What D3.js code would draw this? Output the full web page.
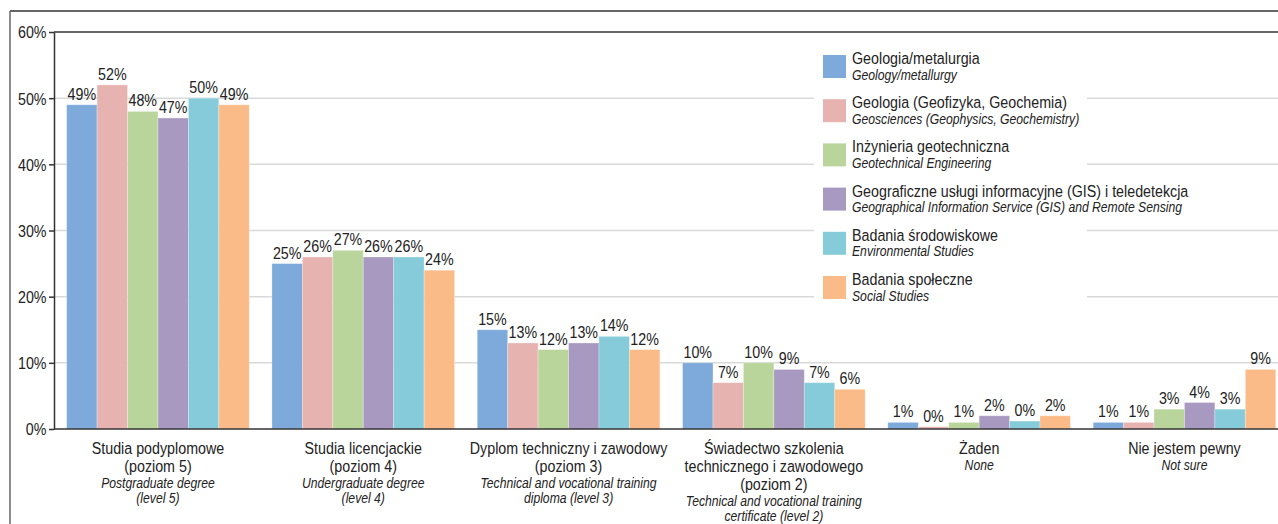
<!DOCTYPE html>
<html><head><meta charset="utf-8">
<script src="https://cdn.jsdelivr.net/npm/d3@7"></script>
<style>
html,body{margin:0;padding:0;background:#fff;}
svg{display:block;}
text{font-family:"Liberation Sans",Arial,sans-serif;fill:#222;}
</style></head>
<body>
<svg id="c" width="1278" height="524"></svg>
<script>
const categoriesPL = [
  ["Studia podyplomowe","(poziom 5)"],
  ["Studia licencjackie","(poziom 4)"],
  ["Dyplom techniczny i zawodowy","(poziom 3)"],
  ["Świadectwo szkolenia","technicznego i zawodowego","(poziom 2)"],
  ["Żaden"],
  ["Nie jestem pewny"]
];
const categoriesEN = [
  ["Postgraduate degree","(level 5)"],
  ["Undergraduate degree","(level 4)"],
  ["Technical and vocational training","diploma (level 3)"],
  ["Technical and vocational training","certificate (level 2)"],
  ["None"],
  ["Not sure"]
];
const seriesPL = ["Geologia/metalurgia","Geologia (Geofizyka, Geochemia)","Inżynieria geotechniczna","Geograficzne usługi informacyjne (GIS) i teledetekcja","Badania środowiskowe","Badania społeczne"];
const seriesEN = ["Geology/metallurgy","Geosciences (Geophysics, Geochemistry)","Geotechnical Engineering","Geographical Information Service (GIS) and Remote Sensing","Environmental Studies","Social Studies"];
const colors = ["#7eaadb","#e6b3b1","#b9d59b","#a899c1","#86cbd9","#fbbb89"];
// values per series (one per category)
const geologia   = [49, 25, 15, 10, 1.0, 1];
const geosciences= [52, 26, 13, 7, 0.35, 1];
const geotech    = [48, 27, 12, 10, 1.0, 3];
const gis        = [47, 26, 13, 9, 2, 4];
const environ    = [50, 26, 14, 7, 1.2, 3];
const social     = [49, 24, 12, 6, 2, 9];
const values = [geologia, geosciences, geotech, gis, environ, social];
// printed labels per series
const labGeologia   = ["49%","25%","15%","10%","1%","1%"];
const labGeosciences= ["52%","26%","13%","7%","0%","1%"];
const labGeotech    = ["48%","27%","12%","10%","1%","3%"];
const labGis        = ["47%","26%","13%","9%","2%","4%"];
const labEnviron    = ["50%","26%","14%","7%","0%","3%"];
const labSocial     = ["49%","24%","12%","6%","2%","9%"];
const labels = [labGeologia, labGeosciences, labGeotech, labGis, labEnviron, labSocial];
const yTicks = [0,10,20,30,40,50,60];

const SX = 0.84; // condensed look
const svg = d3.select("#c");
const W = 1278;
const y = d3.scaleLinear().domain([0,60]).range([429,32]);
const x0 = d3.scaleBand().domain(d3.range(6)).range([55.3,1287.1]).paddingInner(0.1105).paddingOuter(0.05525);
const x1 = d3.scaleBand().domain(d3.range(6)).range([0,x0.bandwidth()]);

function ctext(parent, x, yy, size, str, anchor, italic){
  return parent.append("text")
    .attr("transform",`translate(${x},${yy}) scale(${SX},1)`)
    .attr("font-size",size)
    .attr("text-anchor",anchor||"start")
    .attr("font-style",italic?"italic":null)
    .text(str);
}

// outer frame
svg.append("line").attr("x1",10).attr("x2",W).attr("y1",11).attr("y2",11).attr("stroke","#333").attr("stroke-width",1.5);
svg.append("line").attr("x1",10).attr("x2",10).attr("y1",11).attr("y2",524).attr("stroke","#666").attr("stroke-width",1.5);

// gridlines
svg.append("g").selectAll("line").data(yTicks.filter(d=>d>0&&d<60)).join("line")
  .attr("x1",54).attr("x2",W).attr("y1",d=>y(d)).attr("y2",d=>y(d))
  .attr("stroke","#d9d9d9").attr("stroke-width",1.5);

// top line
svg.append("line").attr("x1",54).attr("x2",W).attr("y1",y(60)).attr("y2",y(60)).attr("stroke","#333").attr("stroke-width",1.5);

// legend background
const lg = svg.append("g");
lg.append("rect").attr("x",814).attr("y",44).attr("width",273).attr("height",268).attr("fill","#fff");

// bars
const groups = svg.append("g").selectAll("g").data(d3.range(6)).join("g")
  .attr("transform",c=>`translate(${x0(c)},0)`);
groups.selectAll("rect").data(c=>values.map((s,i)=>({i,c,v:s[c]}))).join("rect")
  .attr("x",d=>x1(d.i)).attr("width",x1.bandwidth())
  .attr("y",d=>y(d.v)).attr("height",d=>y(0)-y(d.v))
  .attr("fill",d=>colors[d.i])
  .attr("stroke","rgba(255,255,255,0.35)").attr("stroke-width",0.8);
groups.each(function(c){
  const g = d3.select(this);
  values.forEach((s,i)=>{
    ctext(g, x1(i)+x1.bandwidth()/2, y(s[c])-5, 17, labels[i][c], "middle");
  });
});

// y axis
const yAxis = d3.axisLeft(y).tickValues(yTicks).tickFormat(d=>d+"%").tickSize(5).tickSizeOuter(0).tickPadding(3);
const ya = svg.append("g").attr("transform","translate(54,0)").call(yAxis);
ya.attr("font-family",null).attr("font-size",null);
ya.select(".domain").attr("stroke","#333").attr("stroke-width",1.5);
ya.selectAll(".tick line").attr("stroke","#333").attr("stroke-width",1.5);
ya.selectAll(".tick text").attr("font-size",17).attr("fill","#222")
  .attr("x",-7.5/SX).attr("dy","0.35em").attr("transform",`scale(${SX},1)`);

// baseline
svg.append("line").attr("x1",54).attr("x2",W).attr("y1",y(0)).attr("y2",y(0)).attr("stroke","#333").attr("stroke-width",1.5);

// category labels
const cg = svg.append("g");
d3.range(6).forEach(c=>{
  const cx = x0(c)+x0.bandwidth()/2;
  let yy = 454;
  categoriesPL[c].forEach(l=>{ ctext(cg, cx, yy, 17, l, "middle"); yy+=18; });
  yy -= 2.3;
  categoriesEN[c].forEach(l=>{ ctext(cg, cx, yy, 14.5, l, "middle", true); yy+=15.4; });
});

// legend
seriesPL.forEach((s,i)=>{
  const top = 55 + i*44.2;
  lg.append("rect").attr("x",823).attr("y",top).attr("width",23).attr("height",23).attr("fill",colors[i]);
  ctext(lg, 852, top+9, 17, s);
  ctext(lg, 852, top+24.5, 14.5, seriesEN[i], "start", true);
});
</script>
</body></html>
